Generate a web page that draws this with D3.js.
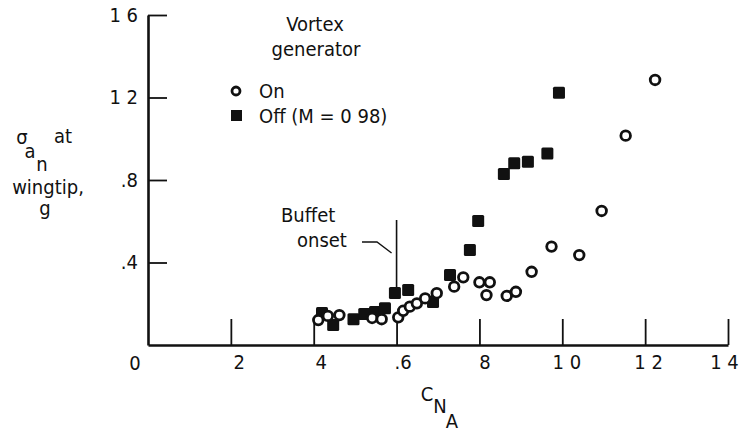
<!DOCTYPE html>
<html>
<head>
<meta charset="utf-8">
<script src="https://cdn.jsdelivr.net/npm/d3@7"></script>
<style>
  body { margin: 0; background: #fff; }
  svg text { font-family: "DejaVu Sans Condensed", "Liberation Sans Narrow", sans-serif; fill: #111; }
</style>
</head>
<body>
<div id="wrapper"></div>
<script>
// vortex generator on
const onCN = [0.411, 0.434, 0.462, 0.541, 0.564, 0.604, 0.616, 0.632, 0.649, 0.669, 0.697, 0.739,
  0.761, 0.800, 0.817, 0.825, 0.866, 0.888, 0.926, 0.974, 1.041, 1.095, 1.153, 1.224];
const onSigma = [0.121, 0.141, 0.145, 0.131, 0.125, 0.134, 0.166, 0.186, 0.202, 0.226, 0.251, 0.283,
  0.328, 0.304, 0.242, 0.304, 0.238, 0.258, 0.355, 0.477, 0.436, 0.650, 1.015, 1.285];
// vortex generator off (M = 0.98)
const offCN = [0.420, 0.447, 0.496, 0.522, 0.548, 0.572, 0.596, 0.628, 0.688, 0.729, 0.777, 0.797,
  0.859, 0.884, 0.917, 0.964, 0.992];
const offSigma = [0.155, 0.097, 0.125, 0.150, 0.160, 0.178, 0.252, 0.267, 0.208, 0.339, 0.461, 0.601,
  0.829, 0.881, 0.889, 0.929, 1.223];

const xTicks = [0.2, 0.4, 0.6, 0.8, 1.0, 1.2, 1.4];
const xTickLabels = ["2", "4", ".6", "8", "1 0", "1 2", "1 4"];
const yTicks = [0.4, 0.8, 1.2, 1.6];
const yTickLabels = [".4", ".8", "1 2", "1 6"];
const buffetOnset = 0.6;

const onData = onCN.map((d, i) => ({ x: d, y: onSigma[i] }));
const offData = offCN.map((d, i) => ({ x: d, y: offSigma[i] }));

let dimensions = { width: 743, height: 435 };
const fs = 20;

const wrapper = d3.select("#wrapper").append("svg")
  .attr("width", dimensions.width)
  .attr("height", dimensions.height);

const xScale = d3.scaleLinear().domain([0, 1.4]).range([148, 728]);
const yScale = d3.scaleLinear().domain([0, 1.6]).range([345, 15]);

// axes
const xAxisGen = d3.axisBottom(xScale)
  .tickValues(xTicks)
  .tickFormat((d, i) => xTickLabels[i])
  .tickSizeInner(-26).tickSizeOuter(0).tickPadding(10);
const axisX = wrapper.append("g")
  .attr("transform", `translate(0,${yScale(0)})`)
  .call(xAxisGen);
axisX.selectAll("text").attr("dx", (d, i) => i === xTicks.length - 1 ? -4 : 8 - i);

const yAxisGen = d3.axisLeft(yScale)
  .tickValues(yTicks)
  .tickFormat((d, i) => yTickLabels[i])
  .tickSizeInner(-19).tickSizeOuter(0).tickPadding(10);
const axisY = wrapper.append("g")
  .attr("transform", `translate(${xScale(0)},0)`)
  .call(yAxisGen);

wrapper.selectAll(".domain").attr("stroke", "#111").attr("stroke-width", 2.6);
wrapper.selectAll(".tick line").attr("stroke", "#111").attr("stroke-width", 1.8);
wrapper.selectAll(".tick text").attr("font-size", fs).attr("fill", "#111")
  .style("font-family", '"DejaVu Sans Condensed", "Liberation Sans Narrow", sans-serif');

// origin label
wrapper.append("text").attr("x", xScale(0) - 13).attr("y", yScale(0) + 25)
  .attr("text-anchor", "middle").attr("font-size", fs).text("0");

// buffet onset marker
wrapper.append("line")
  .attr("x1", xScale(buffetOnset)).attr("x2", xScale(buffetOnset))
  .attr("y1", 220).attr("y2", yScale(0.26))
  .attr("stroke", "#111").attr("stroke-width", 1.6);
wrapper.append("path")
  .attr("d", `M362,242H377L${xScale(buffetOnset) - 5},253`)
  .attr("fill", "none").attr("stroke", "#111").attr("stroke-width", 1.4);
wrapper.append("text").attr("x", 281).attr("y", 222).attr("font-size", fs).text("Buffet");
wrapper.append("text").attr("x", 297).attr("y", 247).attr("font-size", fs).text("onset");

// points
wrapper.append("g").selectAll("rect")
  .data(offData)
  .enter()
  .append("rect")
  .attr("x", d => xScale(d.x) - 6)
  .attr("y", d => yScale(d.y) - 6)
  .attr("width", 12).attr("height", 12)
  .attr("rx", 1.5)
  .attr("fill", "#111");

wrapper.append("g").selectAll("circle")
  .data(onData)
  .enter()
  .append("circle")
  .attr("cx", d => xScale(d.x))
  .attr("cy", d => yScale(d.y))
  .attr("r", 4.8)
  .attr("fill", "#fff")
  .attr("stroke", "#111")
  .attr("stroke-width", 2.8);

// legend
wrapper.append("text").attr("x", 315).attr("y", 31).attr("text-anchor", "middle")
  .attr("font-size", fs).text("Vortex");
wrapper.append("text").attr("x", 316).attr("y", 56).attr("text-anchor", "middle")
  .attr("font-size", fs).text("generator");
wrapper.append("circle").attr("cx", 236).attr("cy", 91).attr("r", 4)
  .attr("fill", "#fff").attr("stroke", "#111").attr("stroke-width", 2.8);
wrapper.append("text").attr("x", 259).attr("y", 98).attr("font-size", fs).text("On");
wrapper.append("rect").attr("x", 231).attr("y", 110).attr("width", 11).attr("height", 11)
  .attr("fill", "#111");
wrapper.append("text").attr("x", 259).attr("y", 123).attr("font-size", fs).text("Off (M = 0 98)");

// y axis title
const yTitle = wrapper.append("g").attr("font-size", fs);
yTitle.append("text").attr("x", 22).attr("y", 144).attr("text-anchor", "middle").text("σ");
yTitle.append("text").attr("x", 30).attr("y", 158).attr("text-anchor", "middle").text("a");
yTitle.append("text").attr("x", 42).attr("y", 171).attr("text-anchor", "middle").text("n");
yTitle.append("text").attr("x", 63).attr("y", 143).attr("text-anchor", "middle").text("at");
yTitle.append("text").attr("x", 48).attr("y", 194).attr("text-anchor", "middle").text("wingtip,");
yTitle.append("text").attr("x", 45).attr("y", 215).attr("text-anchor", "middle").text("g");

// x axis title
const xTitle = wrapper.append("g").attr("font-size", fs);
xTitle.append("text").attr("x", 427).attr("y", 401).attr("text-anchor", "middle").text("C");
xTitle.append("text").attr("x", 440).attr("y", 413).attr("text-anchor", "middle").text("N");
xTitle.append("text").attr("x", 452).attr("y", 428).attr("text-anchor", "middle").text("A");
</script>
</body>
</html>
